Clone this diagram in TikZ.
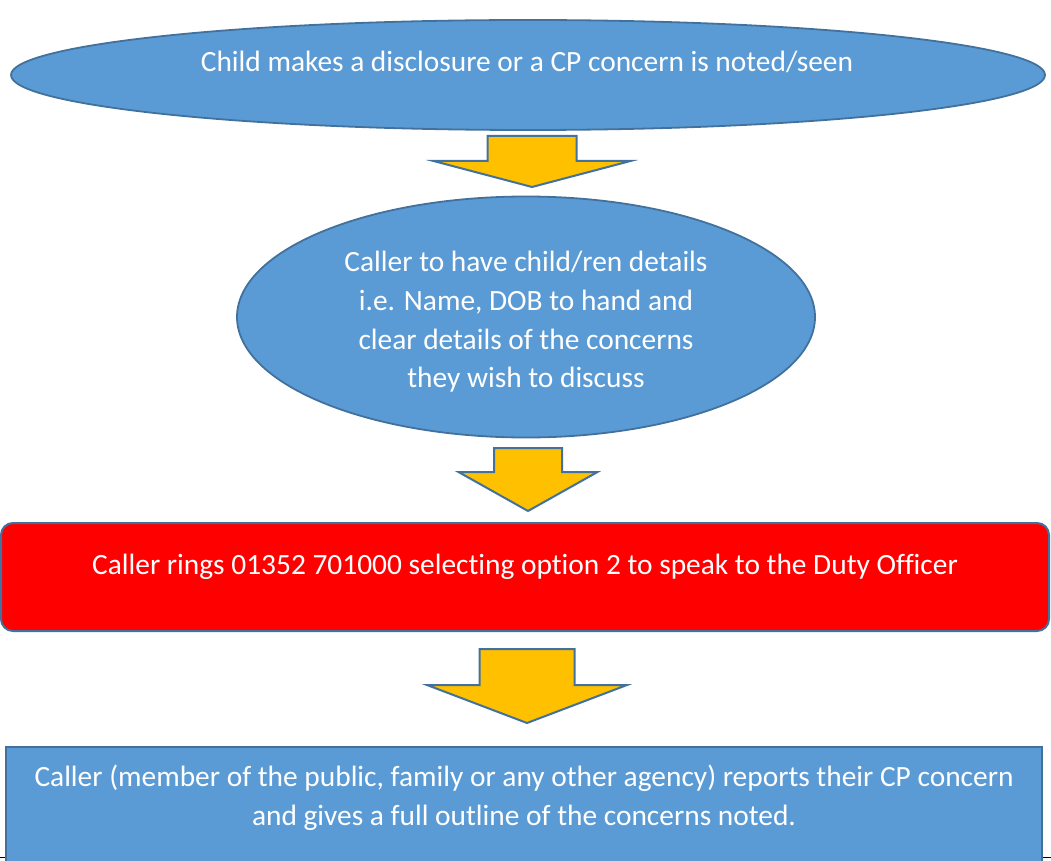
\documentclass[tikz,border=0pt]{standalone}
\usepackage{fontspec}
\setmainfont{Carlito}[Ligatures=NoCommon]
\usetikzlibrary{shapes.geometric}
\definecolor{boxblue}{HTML}{5B9BD5}
\definecolor{edgeblue}{HTML}{41719C}
\definecolor{arrowgold}{HTML}{FFC000}
\tikzset{
  flowtext/.style={text=white,align=center,
    font=\fontsize{29.4}{38.7}\selectfont},
  bluebubble/.style={ellipse,draw=edgeblue,fill=boxblue,
    line width=1.8pt,inner sep=0pt},
  callbox/.style={rectangle,draw=edgeblue,line width=2pt,inner sep=0pt},
  blockarrow/.style={draw=edgeblue,fill=arrowgold,line width=2pt,
    line join=miter}
}

\begin{document}
\begin{tikzpicture}[x=1pt,y=-1pt]
\useasboundingbox (0,0) rectangle (1051,861);
\clip (0,0) rectangle (1051,861);
% top ellipse
\node[bluebubble,minimum width=1034pt,minimum height=110pt]
  (disclose) at (528,75) {};
\node[flowtext] (disclose-text) at (527,62)
  {Child makes a disclosure or a CP concern is noted/seen};
% details ellipse
\node[bluebubble,minimum width=578pt,minimum height=241pt]
  (details) at (526,317) {};
\node[flowtext] (details-text) at (526,322)
  {Caller to have child/ren details\\
   i.e. Name, DOB to hand and\\
   clear details of the concerns\\
   they wish to discuss};
% red call box
\node[callbox,fill=red,rounded corners=12pt,
  minimum width=1048pt,minimum height=108pt]
  (rings) at (525,577) {};
\node[flowtext] (rings-text) at (525,567)
  {Caller rings 01352 701000 selecting option 2 to speak to the Duty Officer};
% report box, runs off the page
\draw[black,line width=0.75pt] (0,857) -- (1051,857);
\node[callbox,fill=boxblue,minimum width=1036pt,minimum height=140pt]
  (report) at (524,817) {};
\node[flowtext] (report-text) at (524,798)
  {Caller (member of the public, family or any other agency) reports their CP concern\\
   and gives a full outline of the concerns noted.};
% block arrows between the shapes
\foreach \ax/\ay/\sw/\by/\hw/\ty in
  {532/136/44.5/161/98.5/187, 528/448/34/472/69.5/511, 527/649/47.5/685/100/723}
  \draw[blockarrow] ({\ax-\sw},\ay) -- ({\ax+\sw},\ay) -- ({\ax+\sw},\by)
    -- ({\ax+\hw},\by) -- (\ax,\ty) -- ({\ax-\hw},\by) -- ({\ax-\sw},\by) -- cycle;
\end{tikzpicture}
\end{document}
